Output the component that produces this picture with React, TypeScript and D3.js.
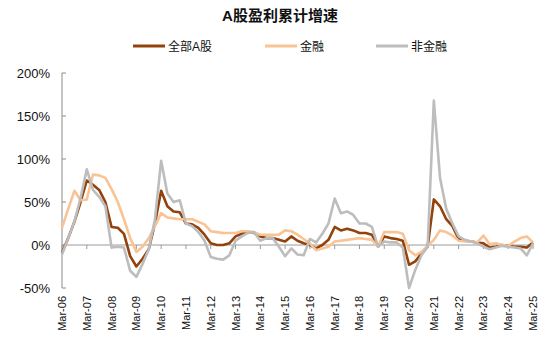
import React from 'react';
import * as d3 from 'd3';

// quarterly cumulative profit growth (%), Mar-06 .. Mar-25
const allA = [
  -9, 8, 27, 50, 75, 70, 64, 50, 21, 20, 13, -13, -25, -16, -5, 25,
  63, 45, 39, 38, 25, 24, 20, 12, 2, 0, 0, 2, 10, 13, 15, 14,
  10, 8, 8, 6, 4, 10, 5, 2, 0, -4, 0, 6, 21, 17, 19, 17,
  14, 14, 12, -2, 10, 8, 7, 5, -23, -19, -10, -2, 53, 45, 30, 22,
  7, 5, 4, 3, 2, -3, -2, 0, -1, -2, -2, -3, 3,
];
const finance = [
  20, 42, 63, 52, 53, 82, 81, 78, 65, 50, 30, 8, -8, -2, 8, 22,
  37, 32, 31, 30, 30, 30, 27, 24, 16, 15, 14, 14, 14, 16, 16, 15,
  12, 12, 12, 12, 17, 16, 12, 7, 2, -6, -4, -2, 4, 5, 6, 7,
  8, 7, 6, -2, 15, 15, 15, 13, -6, -12, -8, -1, 6, 17, 15, 11,
  5, 4, 4, 3, 11, 1, 2, 0, -1, 4, 8, 10, 3,
];
const nonFinance = [
  -11, 8, 27, 55, 88, 64, 56, 45, -3, -2, -3, -30, -37, -22, -5, 30,
  98, 60, 50, 52, 25, 22, 15, 5, -14, -16, -17, -12, 5, 10, 14, 15,
  5, 8, 8, -2, -13, -4, -11, -12, 7, 3, 13, 25, 54, 37, 39, 35,
  25, 25, 21, -2, 4, 3, 3, -3, -50, -29, -12, -2, 168, 78, 42, 25,
  10, 6, 4, 2, -2, -5, -3, -1, -2, -3, -4, -12, 2,
];
const xTickLabels = [
  'Mar-06', 'Mar-07', 'Mar-08', 'Mar-09', 'Mar-10', 'Mar-11', 'Mar-12',
  'Mar-13', 'Mar-14', 'Mar-15', 'Mar-16', 'Mar-17', 'Mar-18', 'Mar-19',
  'Mar-20', 'Mar-21', 'Mar-22', 'Mar-23', 'Mar-24', 'Mar-25',
];
const yTicks = [-50, 0, 50, 100, 150, 200];

const series = [
  { name: '全部A股', values: allA, color: '#93420c' },
  { name: '金融', values: finance, color: '#f9c393' },
  { name: '非金融', values: nonFinance, color: '#bdbdbd' },
];

const W = 550;
const H = 354;
const latin = '"Liberation Sans", Arial, "Noto Sans CJK SC", sans-serif';

const App: React.FC = () => {
  const x = d3.scaleLinear().domain([0, allA.length - 1]).range([62, 533]);
  const y = d3.scaleLinear().domain([-50, 200]).range([288, 73]);

  const line = d3
    .line<number>()
    .x((_, i) => x(i))
    .y(d => y(d));

  const legendPos = [133, 265, 376];

  return (
    <svg
      width={W}
      height={H}
      style={{ position: 'absolute', left: 0, top: 0, background: '#fff' }}
      fontFamily={latin}
    >
      <text
        x={280}
        y={21}
        textAnchor="middle"
        fontSize={15}
        fontWeight="bold"
        fill="#111"
      >
        A股盈利累计增速
      </text>

      {/* legend */}
      {series.map((s, i) => (
        <g key={s.name}>
          <line
            x1={legendPos[i]}
            x2={legendPos[i] + 32}
            y1={46}
            y2={46}
            stroke={s.color}
            strokeWidth={3}
          />
          <text x={legendPos[i] + 35} y={50.5} fontSize={12} fill="#111">
            {s.name}
          </text>
        </g>
      ))}

      {/* y axis */}
      <line x1={62} x2={62} y1={y(200)} y2={y(-50)} stroke="#8c8c8c" />
      {yTicks.map(t => (
        <g key={t}>
          <line x1={62} x2={66} y1={y(t)} y2={y(t)} stroke="#8c8c8c" />
          <text
            x={50}
            y={y(t) + 4.5}
            textAnchor="end"
            fontSize={13}
            fill="#111"
          >
            {t}%
          </text>
        </g>
      ))}

      {/* x axis at zero */}
      <line x1={62} x2={x(allA.length - 1)} y1={y(0)} y2={y(0)} stroke="#9a9a9a" />
      {xTickLabels.map((lab, k) => (
        <g key={lab}>
          <line
            x1={x(k * 4)}
            x2={x(k * 4)}
            y1={y(0)}
            y2={y(0) + 4}
            stroke="#9a9a9a"
          />
          <text
            transform={`translate(${x(k * 4) + 4},296) rotate(-90)`}
            textAnchor="end"
            fontSize={11}
            fill="#111"
          >
            {lab}
          </text>
        </g>
      ))}

      {series.map(s => (
        <path
          key={s.name}
          d={line(s.values) || ''}
          fill="none"
          stroke={s.color}
          strokeWidth={2.6}
          strokeLinejoin="round"
        />
      ))}
    </svg>
  );
};

export default App;
